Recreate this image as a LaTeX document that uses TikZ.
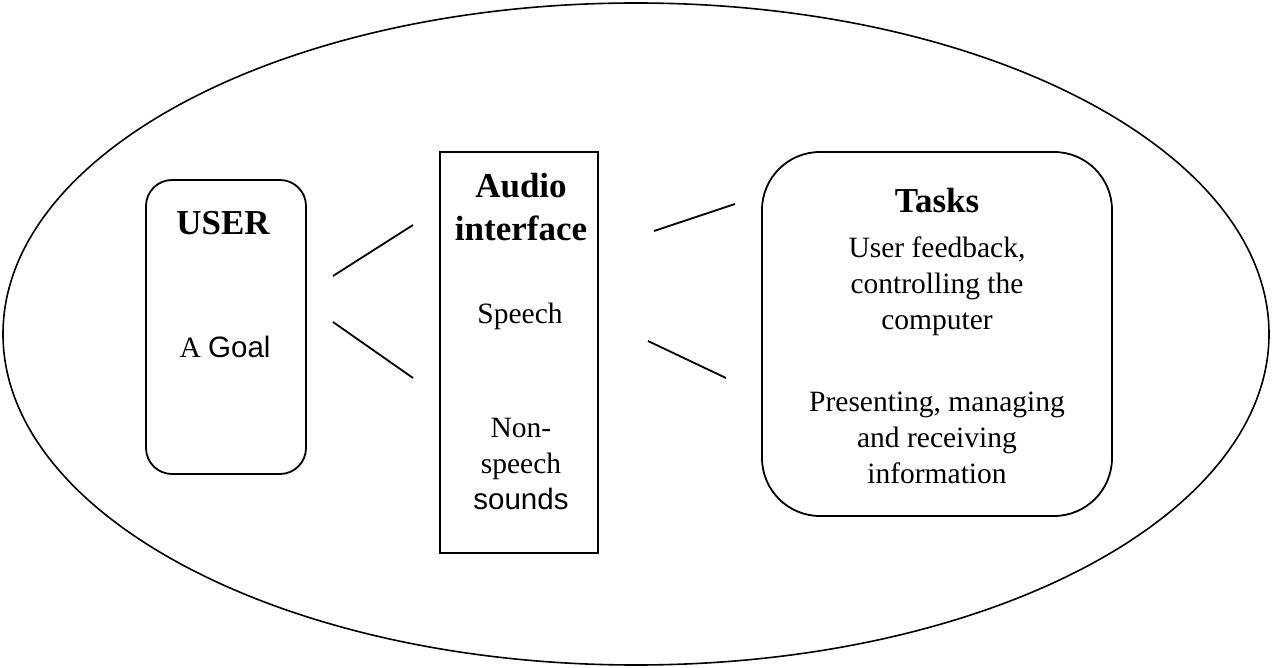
\documentclass[tikz,border=0pt]{standalone}
\usepackage{fontspec}
\setmainfont{Liberation Serif}
\setsansfont{Liberation Sans}
\usepackage{tikz}
\usetikzlibrary{positioning}

\newcommand{\headfont}{\fontsize{35}{43}\bfseries\selectfont}
\newcommand{\bodyfont}{\fontsize{29.5}{36}\selectfont}
\newcommand{\sansbody}{\fontsize{29.5}{36}\sffamily\selectfont}

\begin{document}
\begin{tikzpicture}[x=1pt,y=-1pt,line width=1.8pt]
\tikzstyle{every node}+=[inner sep=0pt]
\tikzstyle{frame}=[draw,line width=1.8pt]
\tikzstyle{head}=[anchor=base,align=center,font=\headfont]
\tikzstyle{body}=[anchor=base,align=center,font=\bodyfont]
\useasboundingbox (0,0) rectangle (1272,668);
% outer ellipse
\draw [line width=1.6pt] (636,334) ellipse [x radius=633, y radius=331];
% boxes
\node [frame,rounded corners=26pt,minimum width=160pt,minimum height=294pt] (user) at (226,327) {};
\node [frame,minimum width=158pt,minimum height=401pt] (audio) at (519,352.5) {};
\node [frame,rounded corners=58pt,minimum width=350pt,minimum height=364pt] (tasks) at (937,334) {};
% texts
\node [head] (usertitle) at (223,235) {USER};
\node [body] (goal) at (225,358) {A {\sffamily Goal}};
\node [head] (audiotitle) at (521,241) {Audio\\interface};
\node [body] (speech) at (520,324) {Speech};
\node [body] (nonspeech) at (521,509) {Non-\\speech\\\sansbody sounds};
\node [head] (taskstitle) at (937,213) {Tasks};
\node [body] (feedback) at (937,330) {User feedback,\\controlling the\\computer};
\node [body] (presenting) at (937,483) {Presenting, managing\\and receiving\\information};
% connectors
\coordinate (ua) at (333,276);
\coordinate (ub) at (413,225);
\coordinate (uc) at (333,322);
\coordinate (ud) at (413,378);
\coordinate (ta) at (654,231);
\coordinate (tb) at (735,204);
\coordinate (tc) at (648,341);
\coordinate (td) at (726,378);
\draw (ua) -- (ub);
\draw (uc) -- (ud);
\draw (ta) -- (tb);
\draw (tc) -- (td);
\end{tikzpicture}
\end{document}
